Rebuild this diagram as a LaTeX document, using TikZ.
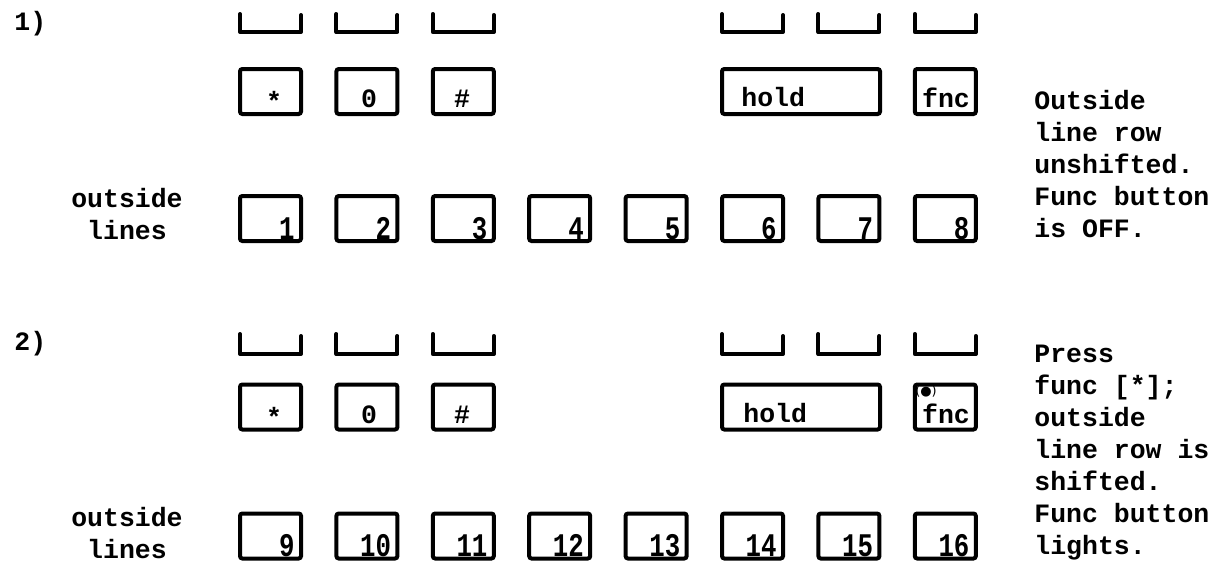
\documentclass[tikz,border=0pt]{standalone}
\usepackage{fontspec}
\setmonofont{Liberation Mono}
\newfontfamily\symfont{DejaVu Sans}
\newfontfamily\digitfont{Liberation Mono}[FakeStretch=0.78]
\begin{document}
\begin{tikzpicture}[x=0.5pt,y=-0.5pt,
  txt/.style={font=\ttfamily\bfseries\fontsize{13.25}{16}\selectfont, inner sep=0pt},
  dig/.style={font=\digitfont\bfseries\fontsize{16.5}{16}\selectfont, inner sep=0pt},
  keybox/.style={draw, line width=2pt, rounded corners=1.2pt, inner sep=0pt,
                 minimum width=30.5pt, minimum height=22.5pt},
  widebox/.style={keybox, minimum width=79pt},
  bracket/.style={line width=2pt, line cap=round, line join=round}]
\useasboundingbox (0,0) rectangle (1220,562);

% column centres
\def\colA{270.5}\def\colB{366.9}\def\colC{463.3}\def\colD{559.7}
\def\colE{656.1}\def\colF{752.5}\def\colG{848.9}\def\colH{945.3}

% ---------- section 1 ----------
\node[txt, anchor=base west] (s1) at (14,31) {1)};
\foreach \c in {\colA,\colB,\colC,\colF,\colG,\colH}
  \draw[bracket] (\c-30.5,14) -- (\c-30.5,32) -- (\c+30.5,32) -- (\c+30.5,15);

\node[keybox] (a1) at (\colA,91.5) {};
\node[keybox] (a2) at (\colB,91.5) {};
\node[keybox] (a3) at (\colC,91.5) {};
\node[widebox] (ahold) at (801,91.5) {};
\node[keybox] (afnc) at (\colH,91.5) {};
\node[txt, anchor=base] (ta1) at (274,110) {*};
\node[txt, anchor=base] (ta2) at (369,107) {0};
\node[txt, anchor=base] (ta3) at (462,107) {\#};
\node[txt, anchor=base west] (tahold) at (741,106) {hold};
\node[txt, anchor=base] (tafnc) at (946,107) {fnc};

\node[txt, align=center, anchor=north] (ol1) at (127,188) {outside\\lines};

\foreach \c/\n [count=\i] in {\colA/1,\colB/2,\colC/3,\colD/4,\colE/5,\colF/6,\colG/7,\colH/8}{
  \node[keybox] (b\i) at (\c,218.5) {};
  \node[dig, anchor=base east] (tb\i) at ([shift={(-8,-4)}]b\i.south east) {\n};
}

\node[txt, align=left, anchor=north west] (d1) at (1034,90)
  {Outside\\line row\\unshifted.\\Func button\\is OFF.};

% ---------- section 2 ----------
\node[txt, anchor=base west] (s2) at (14,350) {2)};
\foreach \c in {\colA,\colB,\colC,\colF,\colG,\colH}
  \draw[bracket] (\c-30.5,334) -- (\c-30.5,354) -- (\c+30.5,354) -- (\c+30.5,336);

\node[keybox] (c1) at (\colA,407) {};
\node[keybox] (c2) at (\colB,407) {};
\node[keybox] (c3) at (\colC,407) {};
\node[widebox] (chold) at (801,407) {};
\node[keybox] (cfnc) at (\colH,407) {};
\node[txt, anchor=base] (tc1) at (274,426) {*};
\node[txt, anchor=base] (tc2) at (369,423) {0};
\node[txt, anchor=base] (tc3) at (462,423) {\#};
\node[txt, anchor=base west] (tchold) at (743,422) {hold};
\node[txt, anchor=base] (tcfnc) at (946,423) {fnc};
\node[font=\symfont\fontsize{6.5}{6.5}\selectfont, inner sep=0pt] (lamp) at (926,391) {(●)};

\node[txt, align=center, anchor=north] (ol2) at (127,507) {outside\\lines};

\foreach \c/\n [count=\i] in {\colA/9,\colB/10,\colC/11,\colD/12,\colE/13,\colF/14,\colG/15,\colH/16}{
  \node[keybox] (e\i) at (\c,536) {};
  \node[dig, anchor=base east] (te\i) at ([shift={(-8,-4)}]e\i.south east) {\n};
}

\node[txt, align=left, anchor=north west] (d2) at (1034,345)
  {Press\\func [*];\\outside\\line row is\\shifted.\\Func button\\lights.};
\end{tikzpicture}
\end{document}
